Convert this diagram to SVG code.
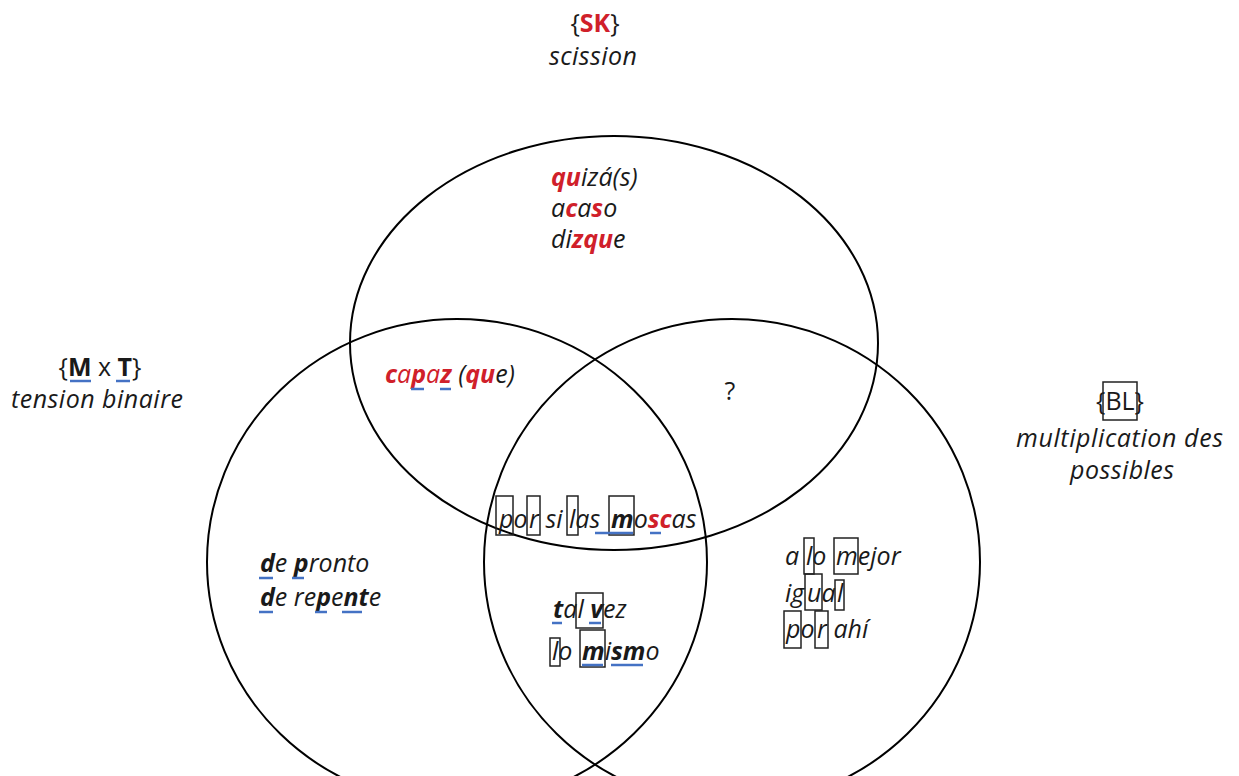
<svg xmlns="http://www.w3.org/2000/svg" width="1239" height="776" viewBox="0 0 1239 776">
<style>
text{font-family:"Open Sans","Noto Sans",sans-serif;font-size:25px;fill:#1a1a1a}
.i{font-style:italic}
.b{font-weight:bold}
.r{fill:#d0202a}
.c{fill:none;stroke:#000;stroke-width:2}
.bx{fill:none;stroke:#222;stroke-width:1.5}
.u{stroke:#4472c4;stroke-width:2.5}
</style>
<rect width="1239" height="776" fill="#fff"/>
<g id="connectors">
<ellipse class="c" cx="614" cy="343" rx="264" ry="207"/>
<ellipse class="c" cx="457" cy="562" rx="250" ry="243"/>
<ellipse class="c" cx="732" cy="562" rx="248" ry="243"/>
</g>
<g id="label-sk">
<text x="595" y="32" text-anchor="middle">{<tspan class="b r">SK</tspan>}</text>
<text class="i" x="549" y="65" textLength="88">scission</text>
</g>
<g id="label-mt">
<text x="100" y="376" text-anchor="middle">{<tspan class="b">M</tspan> x <tspan class="b">T</tspan>}</text>
<line class="u" x1="70" y1="381" x2="91" y2="381"/>
<line class="u" x1="116" y1="381" x2="130" y2="381"/>
<text class="i" x="11" y="408" textLength="172">tension binaire</text>
</g>
<g id="label-bl">
<text x="1120" y="410" text-anchor="middle">{BL}</text>
<rect class="bx" x="1103" y="382" width="34" height="38"/>
<text class="i" x="1016" y="447" textLength="207">multiplication des</text>
<text class="i" x="1070" y="479" textLength="104">possibles</text>
</g>
<g id="node-top">
<text class="i" x="551" y="186"><tspan class="b r">qu</tspan>izá(s)</text>
<text class="i" x="551" y="217">a<tspan class="b r">c</tspan>a<tspan class="b r">s</tspan>o</text>
<text class="i" x="551" y="248">di<tspan class="b r">zqu</tspan>e</text>
</g>
<g id="node-capaz">
<text class="i" x="385" y="383"><tspan class="r"><tspan class="b">c</tspan>a<tspan class="b">p</tspan>a<tspan class="b">z</tspan></tspan> (<tspan class="b r">qu</tspan>e)</text>
<line class="u" x1="411" y1="389" x2="424" y2="389"/>
<line class="u" x1="440" y1="389" x2="451" y2="389"/>
</g>
<g id="node-question">
<text x="730" y="400" text-anchor="middle">?</text>
</g>
<g id="node-center">
<text class="i" y="528"><tspan x="499">p</tspan>o<tspan x="529">r</tspan> si <tspan x="569">l</tspan>as <tspan x="611" class="b">m</tspan>o<tspan class="b r">sc</tspan>as</text>
<rect class="bx" x="496" y="496" width="17" height="39"/>
<rect class="bx" x="527" y="496" width="13" height="39"/>
<rect class="bx" x="567" y="496" width="11" height="39"/>
<rect class="bx" x="609" y="496" width="25" height="39"/>
<line class="u" x1="595" y1="533" x2="633" y2="533"/>
<line class="u" x1="650" y1="533" x2="661" y2="533"/>
</g>
<g id="node-left">
<text class="i" x="260" y="572"><tspan class="b">d</tspan>e <tspan class="b">p</tspan>ronto</text>
<text class="i" x="260" y="606"><tspan class="b">d</tspan>e re<tspan class="b">p</tspan>e<tspan class="b">nt</tspan>e</text>
<line class="u" x1="259" y1="578" x2="273" y2="578"/>
<line class="u" x1="292" y1="578" x2="304" y2="578"/>
<line class="u" x1="259" y1="612" x2="273" y2="612"/>
<line class="u" x1="315" y1="612" x2="327" y2="612"/>
<line class="u" x1="342" y1="612" x2="362" y2="612"/>
</g>
<g id="node-bottom">
<text class="i" x="553" y="618"><tspan class="b">t</tspan>al <tspan class="b">v</tspan>ez</text>
<rect class="bx" x="576" y="593" width="27" height="35"/>
<line class="u" x1="552" y1="623" x2="562" y2="623"/>
<line class="u" x1="589" y1="623" x2="601" y2="623"/>
<text class="i" y="660"><tspan x="552">l</tspan>o <tspan x="582" class="b">m</tspan>i<tspan class="b">sm</tspan>o</text>
<rect class="bx" x="550" y="638" width="10" height="28"/>
<rect class="bx" x="580" y="630" width="25" height="37"/>
<line class="u" x1="582" y1="665" x2="603" y2="665"/>
<line class="u" x1="611" y1="665" x2="643" y2="665"/>
</g>
<g id="node-right">
<text class="i" y="565"><tspan x="785">a </tspan><tspan x="806">l</tspan>o <tspan x="836">m</tspan>ejor</text>
<rect class="bx" x="804" y="538" width="10" height="36"/>
<rect class="bx" x="834" y="538" width="24" height="36"/>
<text class="i" y="602"><tspan x="785">ig</tspan><tspan x="807">u</tspan>a<tspan x="837">l</tspan></text>
<rect class="bx" x="805" y="574" width="17" height="36"/>
<rect class="bx" x="835" y="580" width="9" height="30"/>
<text class="i" y="638"><tspan x="786">p</tspan>o<tspan x="817">r</tspan> ahí</text>
<rect class="bx" x="784" y="611" width="17" height="37"/>
<rect class="bx" x="815" y="611" width="13" height="37"/>
</g>
</svg>
